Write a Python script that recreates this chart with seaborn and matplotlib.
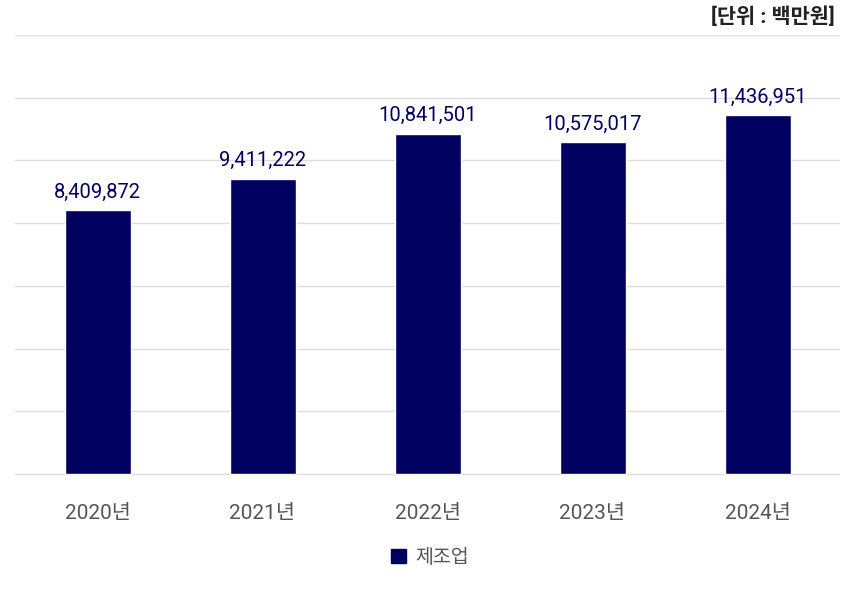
import seaborn as sns
import pandas as pd
from matplotlib import pyplot as plt
from matplotlib.patches import Patch

years = ['2020년', '2021년', '2022년', '2023년', '2024년']
values = [8409872, 9411222, 10841501, 10575017, 11436951]
series_name = '제조업'
unit_label = '[단위 : 백만원]'

sns.set_style("white")
plt.rcParams['font.family'] = ['Roboto', 'Noto Sans CJK KR', 'DejaVu Sans']

df = pd.DataFrame({'year': years, 'value': values})
navy = '#000060'

fig = plt.figure(figsize=(8.54, 5.90), dpi=100)
ax = fig.add_axes([15/854, 1 - 476/590, 825/854, 441/590])

sns.barplot(x='year', y='value', data=df, color=navy, width=0.4, saturation=1, ax=ax)

ax.set_ylim(-60000, 14000000)
ax.set_xlim(-0.5, 4.5)
ax.set_yticks(range(0, 14000001, 2000000))
ax.yaxis.grid(True, color='#dddddd', linewidth=1)
ax.set_axisbelow(True)
ax.set_yticklabels([])
ax.tick_params(axis='y', length=0)
ax.tick_params(axis='x', length=0, pad=20, labelsize=15, labelcolor='#555555')
ax.set_xlabel('')
ax.set_ylabel('')
for s in ax.spines.values():
    s.set_visible(False)

for i, v in enumerate(values):
    ax.text(i, v + 280000, f'{v:,}', ha='center', va='bottom', fontsize=14.5, color=navy)

fig.text(835/854, 1 - 17/590, unit_label, ha='right', va='center', fontsize=15,
         fontweight='bold', color='#222222')

fig.legend(handles=[Patch(color=navy, label=series_name)], loc='center',
           bbox_to_anchor=(430/854, 1 - 558/590), frameon=False, fontsize=14,
           handlelength=0.75, handleheight=0.75, handletextpad=0.5, labelcolor='#555555')

plt.savefig('out.png', dpi=100)
